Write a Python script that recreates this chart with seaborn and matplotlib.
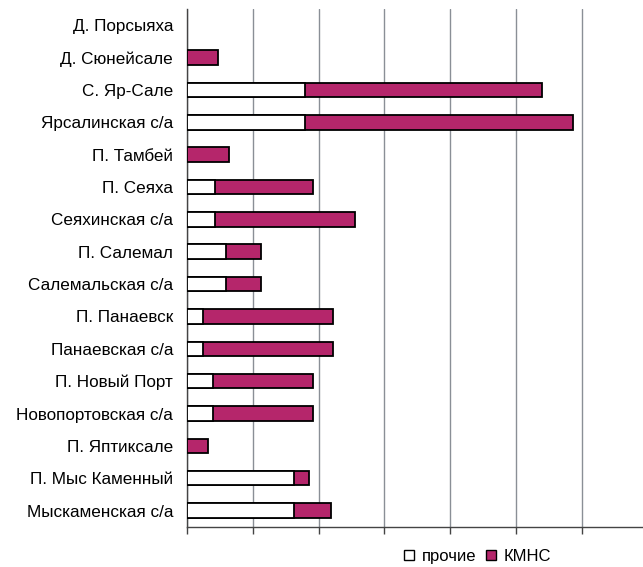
import numpy as np
import pandas as pd
import matplotlib
matplotlib.use("Agg")
import matplotlib.pyplot as plt
from matplotlib.patches import Patch
import seaborn as sns

# Данные (прочие / КМНС, в условных единицах сетки)
places = ["Д. Порсыяха", "Д. Сюнейсале", "С. Яр-Сале", "Ярсалинская с/а",
          "П. Тамбей", "П. Сеяха", "Сеяхинская с/а", "П. Салемал",
          "Салемальская с/а", "П. Панаевск", "Панаевская с/а", "П. Новый Порт",
          "Новопортовская с/а", "П. Яптиксале", "П. Мыс Каменный",
          "Мыскаменская с/а"]
prochie = [0, 0, 1.79, 1.79, 0, 0.42, 0.42, 0.59, 0.59, 0.24, 0.24, 0.40, 0.40, 0, 1.62, 1.62]
kmns = [0, 0.47, 3.61, 4.08, 0.64, 1.49, 2.13, 0.54, 0.54, 1.98, 1.98, 1.51, 1.51, 0.31, 0.24, 0.56]

df = pd.DataFrame({"place": places, "prochie": prochie, "kmns": kmns})
df["total"] = df["prochie"] + df["kmns"]

sns.set_style("white")
plt.rcParams["font.family"] = ["Liberation Sans", "DejaVu Sans"]
plt.rcParams["text.color"] = "black"
plt.rcParams["ytick.color"] = "black"

fig = plt.figure(figsize=(6.43, 5.67), dpi=100)
ax = fig.add_axes([0.291, 0.071, 0.709, 0.913])

purple = "#B5266B"
sns.barplot(data=df, y="place", x="total", color=purple, saturation=1, orient="h",
            width=0.45, edgecolor="black", linewidth=1.3, ax=ax, zorder=3)
sns.barplot(data=df, y="place", x="prochie", color="white", saturation=1, orient="h",
            width=0.45, edgecolor="black", linewidth=1.3, ax=ax, zorder=4)
# убрать пустые рамки у нулевых столбцов
for p in ax.patches:
    if p.get_width() == 0:
        p.set_visible(False)

ax.set_xlim(0, 6.93)
ax.set_ylim(len(places) - 0.5, -0.5)
ax.set_xticks(np.arange(0, 7))
ax.set_xticklabels([])
ax.xaxis.grid(True, color="#8a8f96", linewidth=1.0, zorder=0)
ax.set_xlabel("")
ax.set_ylabel("")

ax.tick_params(axis="y", which="major", length=0, labelsize=12.3, pad=10, labelcolor="black")
ax.set_yticks(np.arange(-0.5, len(places)), minor=True)
ax.tick_params(axis="y", which="minor", length=5, width=1, color="#444444", direction="out")
ax.tick_params(axis="x", which="major", length=5, width=1, color="#444444", direction="out", bottom=True)

for s in ["top", "right"]:
    ax.spines[s].set_visible(False)
for s in ["left", "bottom"]:
    ax.spines[s].set_color("#444444")
    ax.spines[s].set_linewidth(1)

handles = [Patch(facecolor="white", edgecolor="black", label="прочие"),
           Patch(facecolor=purple, edgecolor="black", label="КМНС")]
fig.legend(handles=handles, loc="center", bbox_to_anchor=(0.743, 0.019),
           ncol=2, frameon=False, fontsize=12, handlelength=0.6, handleheight=0.6,
           handletextpad=0.45, columnspacing=0.6)

fig.savefig("out.png", dpi=100)
